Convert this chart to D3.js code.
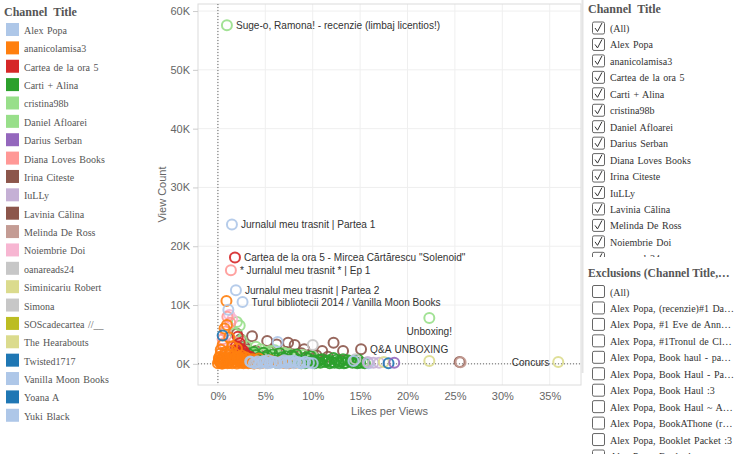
<!DOCTYPE html>
<html>
<head>
<meta charset="utf-8">
<script src="https://cdn.jsdelivr.net/npm/d3@7"></script>
<style>
  body { margin: 0; background: #fff; }
  svg { display: block; }
  .serif { font-family: "Liberation Serif", "Times New Roman", serif; }
  .sans { font-family: "Liberation Sans", Arial, sans-serif; }
</style>
</head>
<body>
<svg id="chart" width="736" height="454"></svg>
<script>
// channels and their colours (legend order)
var channels = ["Alex Popa", "ananicolamisa3", "Cartea de la ora 5", "Carti + Alina", "cristina98b",
    "Daniel Afloarei", "Darius Serban", "Diana Loves Books", "Irina Citeste", "IuLLy", "Lavinia Călina",
    "Melinda De Ross", "Noiembrie Doi", "oanareads24", "Siminicariu Robert", "Simona",
    "SOScadecartea //__", "The Hearabouts", "Twisted1717", "Vanilla Moon Books", "Yoana A", "Yuki Black"];
var channelColors = ["#aec7e8", "#ff7f0e", "#d62728", "#2ca02c", "#98df8a", "#98df8a", "#9467bd",
    "#ff9896", "#8c564b", "#c5b0d5", "#8c564b", "#c49c94", "#f7b6d2", "#c7c7c7", "#dbdb8d",
    "#c7c7c7", "#bcbd22", "#dbdb8d", "#1f77b4", "#aec7e8", "#1f77b4", "#aec7e8"];

// points per channel: [likes per views (%), view count]
var alexPopa = [[1.48, 23700], [1.9, 12500], [4.0, 200], [4.5, 100], [5.0, 300], [5.5, 150], [6.0, 250],
    [6.5, 100], [7.0, 300], [7.5, 200], [8.0, 100], [8.5, 250], [9.0, 150], [4.8, 500], [6.3, 3700],
    [3.5, 300], [3.8, 100], [4.2, 400], [4.7, 250], [5.2, 100], [5.7, 400], [6.2, 150], [6.7, 350],
    [7.2, 100], [7.7, 400], [8.2, 300], [8.7, 100], [9.2, 350], [9.6, 200], [10.0, 100], [5.3, 600],
    [7.0, 600], [8.0, 550]];
var ananicolamisa3 = [[0.9, 10700], [0.95, 6600], [0.7, 6000], [1.2, 4500], [0.5, 3200], [1.5, 3000],
    [2.0, 2600], [0.3, 1800], [0.8, 2000], [1.1, 1500], [1.8, 1700], [2.5, 1400], [0.4, 900], [1.0, 1000],
    [1.6, 800], [2.2, 900], [2.8, 700], [3.3, 600], [0.2, 300], [0.6, 400], [1.3, 500], [1.9, 300],
    [2.4, 200], [3.0, 300], [3.6, 200], [4.1, 300], [4.6, 150], [5.2, 200], [5.8, 300], [6.3, 200],
    [0.0, 100], [0.5, 50], [1.0, 100], [1.5, 100], [2.0, 50], [2.7, 100], [3.8, 50], [4.4, 100],
    [7.0, 150], [7.5, 100], [8.2, 200], [6.8, 500], [5.5, 600], [0.3, 2400], [1.4, 2200],
    [0.1, 600], [0.3, 200], [0.6, 900], [0.9, 500], [1.2, 200], [1.4, 800], [1.7, 400], [2.0, 1100],
    [2.1, 600], [2.3, 400], [2.6, 800], [2.9, 300], [3.1, 900], [3.4, 500], [0.2, 1200], [0.7, 1400],
    [1.1, 700], [1.8, 1000], [2.5, 300], [3.2, 100], [0.4, 50], [0.8, 300], [1.6, 1300], [2.2, 1200],
    [2.9, 1100], [0.1, 1000], [3.6, 800], [4.0, 600], [4.3, 900], [5.0, 500]];
var carteaOra5 = [[1.8, 18100], [2.1, 4600], [2.3, 3500], [1.9, 3000], [2.5, 2500], [2.0, 2000],
    [2.8, 1800], [1.7, 1200], [2.4, 1000], [3.0, 1500], [3.2, 800], [2.6, 600], [2.2, 2700], [2.7, 2200],
    [2.0, 1500], [2.9, 1000], [1.9, 800], [2.4, 1400], [3.4, 1200]];
var cartiAlina = [[3.0, 1200], [3.5, 900], [4.0, 1500], [4.5, 800], [5.0, 1100], [5.5, 700], [6.0, 1000],
    [6.5, 600], [7.0, 900], [7.5, 500], [8.0, 1200], [8.5, 700], [9.0, 400], [9.5, 900], [10.0, 600],
    [10.5, 300], [10.8, 200], [11.0, 800], [11.5, 500], [12.0, 300], [12.5, 700], [13.0, 400],
    [13.5, 200], [14.0, 500], [14.5, 300], [15.0, 200], [15.5, 100], [4.2, 300], [6.2, 200], [8.8, 100],
    [11.8, 100], [13.2, 800], [9.8, 1300], [7.8, 1400], [5.8, 1600], [12.2, 1000], [14.8, 700],
    [3.8, 2000], [10.2, 100], [12.8, 100], [9.2, 100], [9.7, 300], [10.3, 500], [10.7, 700], [11.3, 300],
    [11.7, 600], [12.3, 200], [12.7, 400], [13.3, 100], [13.7, 600], [14.2, 200], [14.7, 100],
    [2.5, 1400], [3.2, 1700], [4.8, 1900], [6.5, 1800], [7.2, 1300], [8.3, 1600], [9.3, 1100],
    [5.2, 1400], [6.8, 1100], [4.4, 1100]];
var cristina98b = [[22.3, 7800], [2.0, 7100], [2.3, 6500], [3.0, 3000], [4.5, 2500], [5.5, 2200],
    [7.0, 1900], [2.5, 4000], [15.3, 200], [3.6, 1800], [6.2, 1600], [8.4, 1500], [3.2, 2200],
    [4.0, 1800], [5.0, 2000], [6.0, 2300], [7.5, 1700], [9.0, 1500], [2.6, 1500], [10.0, 1300]];
var danielAfloarei = [[0.95, 57600], [1.8, 5200], [4.0, 2900], [5.0, 1700]];
var dariusSerban = [[18.6, 200]];
var dianaLovesBooks = [[1.37, 15900], [0.5, 4200], [0.8, 5500], [1.0, 8000], [1.3, 7000], [0.6, 3500],
    [1.7, 3800]];
var irinaCiteste = [[2.0, 5100], [2.4, 4200], [3.6, 4700], [5.2, 3900], [6.2, 3300], [7.4, 3600],
    [8.1, 3200], [9.1, 2500], [11.0, 2200], [12.2, 3600], [13.2, 2200]];
var iuLLy = [[16.4, 200], [17.0, 200], [15.8, 300]];
var laviniaCalina = [[15.1, 2500], [3.0, 2500], [4.0, 2200], [4.8, 1900], [5.6, 2100], [6.6, 1700],
    [7.2, 2000], [8.0, 1600], [8.8, 1800], [9.6, 1500], [10.4, 1400], [11.6, 1200], [4.4, 1500],
    [2.8, 3000], [25.5, 300]];
var melindaDeRoss = [[25.6, 250], [1.0, 2000]];
var noiembrieDoi = [[1.2, 8300], [1.5, 7600], [0.4, 2500]];
var oanareads24 = [[10.0, 3200], [14.5, 800]];
var siminicariuRobert = [[22.3, 500]];
var simona = [[7.5, 500], [6.0, 300]];
var sosCadecartea = [];
var theHearabouts = [[35.9, 300], [17.5, 300]];
var twisted1717 = [[18.0, 100]];
var vanillaMoonBooks = [[2.6, 10500], [14.3, 500], [15.9, 100]];
var yoanaA = [[0.5, 4800]];
var yukiBlack = [[1.1, 9200], [3.4, 400]];

var channelPoints = [alexPopa, ananicolamisa3, carteaOra5, cartiAlina, cristina98b, danielAfloarei,
    dariusSerban, dianaLovesBooks, irinaCiteste, iuLLy, laviniaCalina, melindaDeRoss, noiembrieDoi,
    oanareads24, siminicariuRobert, simona, sosCadecartea, theHearabouts, twisted1717, vanillaMoonBooks,
    yoanaA, yukiBlack];

// order the marks are painted in (back to front)
var drawOrder = ["Irina Citeste", "Lavinia Călina", "cristina98b", "Daniel Afloarei", "Carti + Alina",
    "Melinda De Ross", "Noiembrie Doi", "Diana Loves Books", "Cartea de la ora 5", "ananicolamisa3",
    "oanareads24", "Simona", "Alex Popa", "Yuki Black", "Vanilla Moon Books", "Yoana A", "IuLLy",
    "Siminicariu Robert", "The Hearabouts", "SOScadecartea //__", "Twisted1717", "Darius Serban"];

// labelled videos
var labelTitles = ["Suge-o, Ramona! - recenzie (limbaj licentios!)", "Jurnalul meu trasnit | Partea 1",
    "Cartea de la ora 5 - Mircea Cărtărescu \"Solenoid\"", "* Jurnalul meu trasnit * | Ep 1",
    "Jurnalul meu trasnit | Partea 2", "Turul bibliotecii 2014 / Vanilla Moon Books", "Unboxing!",
    "Q&A", "UNBOXING", "Concurs"];
var labelLikes = [0.95, 1.48, 1.8, 1.37, 1.9, 2.6, 22.3, 15.1, 22.3, 35.9];
var labelViews = [57600, 23700, 18100, 15900, 12500, 10500, 7800, 2500, 500, 300];
var labelSide = ["right", "right", "right", "right", "right", "right", "below", "right", "above", "left"];

var yTicks = [0, 10000, 20000, 30000, 40000, 50000, 60000];
var xTicks = [0, 5, 10, 15, 20, 25, 30, 35];

var filterItems = ["(All)"].concat(channels);
var exclusionItems = ["(All)", "Alex Popa, (recenzie)#1 Da…", "Alex Popa, #1 Eve de Ann…",
    "Alex Popa, #1Tronul de Cl…", "Alex Popa, Book haul - pa…", "Alex Popa, Book Haul - Pa…",
    "Alex Popa, Book Haul :3", "Alex Popa, Book Haul ~ A…", "Alex Popa, BookAThone (r…",
    "Alex Popa, Booklet Packet :3", "Alex Popa, Booktube tag…"];

var svg = d3.select('#chart');

// ---------- plot ----------
var plot = { left: 198, right: 581, top: 4, bottom: 385 };

var x = d3.scaleLinear().domain([-2.1, 38.3]).range([plot.left, plot.right]);
var y = d3.scaleLinear().domain([-3600, 61200]).range([plot.bottom, plot.top]);

// gridlines
svg.append('g').selectAll('line.gx')
    .data(xTicks).enter().append('line')
    .attr('x1', function (d) { return x(d); })
    .attr('x2', function (d) { return x(d); })
    .attr('y1', plot.top).attr('y2', plot.bottom)
    .style('stroke', '#efefef').style('stroke-width', 1);

svg.append('g').selectAll('line.gy')
    .data(yTicks).enter().append('line')
    .attr('y1', function (d) { return y(d); })
    .attr('y2', function (d) { return y(d); })
    .attr('x1', plot.left).attr('x2', plot.right)
    .style('stroke', '#efefef').style('stroke-width', 1);

// frame
svg.append('rect')
    .attr('x', plot.left).attr('y', plot.top)
    .attr('width', plot.right - plot.left).attr('height', plot.bottom - plot.top)
    .attr('fill', 'none').style('stroke', '#dcdcdc');

// zero reference lines
svg.append('line')
    .attr('x1', x(0)).attr('x2', x(0)).attr('y1', plot.top).attr('y2', plot.bottom)
    .style('stroke', '#666').style('stroke-width', 1).style('stroke-dasharray', '1,2');
svg.append('line')
    .attr('x1', plot.left).attr('x2', plot.right).attr('y1', y(0)).attr('y2', y(0))
    .style('stroke', '#666').style('stroke-width', 1).style('stroke-dasharray', '1,2');

// axes
var yAxis = d3.axisLeft(y).tickValues(yTicks).tickSize(5).tickPadding(3)
    .tickFormat(function (d) { return (d / 1000) + 'K'; });
var gy = svg.append('g').attr('transform', 'translate(' + plot.left + ',0)').call(yAxis);

var xAxis = d3.axisBottom(x).tickValues(xTicks).tickSize(0).tickPadding(7)
    .tickFormat(function (d) { return d + '%'; });
var gx = svg.append('g').attr('transform', 'translate(0,' + plot.bottom + ')').call(xAxis);

[gx, gy].forEach(function (g) {
    g.select('.domain').remove();
    g.selectAll('.tick line').style('stroke', '#ccc');
    g.selectAll('text').attr('class', 'sans').style('font-size', '11px').style('fill', '#666');
});

svg.append('text').attr('class', 'sans')
    .attr('x', (plot.left + plot.right) / 2).attr('y', 415)
    .attr('text-anchor', 'middle')
    .style('font-size', '11px').style('fill', '#666')
    .text('Likes per Views');

svg.append('text').attr('class', 'sans')
    .attr('transform', 'translate(166,' + ((plot.top + plot.bottom) / 2) + ') rotate(-90)')
    .attr('text-anchor', 'middle')
    .style('font-size', '11px').style('fill', '#666')
    .text('View Count');

// marks
var marks = svg.append('g');
drawOrder.forEach(function (name) {
    var i = channels.indexOf(name);
    marks.selectAll(null)
        .data(channelPoints[i]).enter().append('circle')
        .attr('cx', function (d) { return x(d[0]); })
        .attr('cy', function (d) { return y(d[1]); })
        .attr('r', 5)
        .attr('fill', 'none')
        .style('stroke', channelColors[i])
        .style('stroke-width', 2)
        .style('stroke-opacity', 0.9);
});

// labels
var labels = svg.append('g');
labelTitles.forEach(function (t, i) {
    var px = x(labelLikes[i]), py = y(labelViews[i]);
    var txt = labels.append('text').attr('class', 'sans')
        .style('font-size', '10.1px').style('fill', '#333').text(t);
    if (labelSide[i] === 'right') {
        txt.attr('x', px + 9).attr('y', py + 4);
    } else if (labelSide[i] === 'left') {
        txt.attr('x', px - 9).attr('y', py + 4).attr('text-anchor', 'end');
    } else if (labelSide[i] === 'below') {
        txt.attr('x', px).attr('y', py + 17).attr('text-anchor', 'middle');
    } else {
        txt.attr('x', px - 8).attr('y', py - 8).attr('text-anchor', 'middle');
    }
});

// ---------- colour legend ----------
var legend = svg.append('g');
legend.append('text').attr('class', 'serif')
    .attr('x', 4).attr('y', 16)
    .style('font-size', '12px').style('font-weight', 'bold').style('fill', '#555')
    .style('word-spacing', '3px')
    .text('Channel Title');

var legendRow = d3.scaleLinear().domain([0, 1]).range([30, 48.37]);
var items = legend.selectAll('g.item')
    .data(channels).enter().append('g')
    .attr('transform', function (d, i) { return 'translate(0,' + legendRow(i) + ')'; });
items.append('rect')
    .attr('x', 6).attr('y', -7).attr('width', 13).attr('height', 13)
    .attr('fill', function (d, i) { return channelColors[i]; });
items.append('text').attr('class', 'serif')
    .attr('x', 24).attr('y', 4)
    .style('font-size', '10px').style('fill', '#555').style('word-spacing', '1px')
    .text(function (d) { return d; });

// ---------- filter panels ----------
function checkList(g, list, top, checked, clipBottom) {
    var clipId = 'clip' + Math.round(top);
    svg.append('clipPath').attr('id', clipId).append('rect')
        .attr('x', 585).attr('y', top - 10).attr('width', 151).attr('height', clipBottom - top + 10);
    var rows = g.append('g').attr('clip-path', 'url(#' + clipId + ')')
        .selectAll('g').data(list).enter().append('g')
        .attr('transform', function (d, i) { return 'translate(0,' + (top + i * 16.45) + ')'; });
    rows.append('rect')
        .attr('x', 592.5).attr('y', -6.5).attr('width', 12).attr('height', 12).attr('rx', 1.5)
        .attr('fill', '#fff').style('stroke', '#666').style('stroke-width', 1);
    if (checked) {
        rows.append('path')
            .attr('d', 'M595,-0.5 L597.5,3 L602,-5.5')
            .attr('fill', 'none').style('stroke', '#333').style('stroke-width', 1);
    }
    rows.append('text').attr('class', 'serif')
        .attr('x', 610).attr('y', 3.5)
        .style('font-size', '10px').style('fill', '#333').style('word-spacing', '1px')
        .text(function (d) { return d; });
}

var panel = svg.append('g');
panel.append('line')
    .attr('x1', 582.5).attr('x2', 582.5).attr('y1', 0).attr('y2', 373)
    .style('stroke', '#e4e4e4').style('stroke-width', 2);
panel.append('text').attr('class', 'serif')
    .attr('x', 588).attr('y', 13)
    .style('font-size', '12px').style('font-weight', 'bold').style('fill', '#555')
    .style('word-spacing', '3px')
    .text('Channel Title');
checkList(panel, filterItems, 28.5, true, 257);

panel.append('text').attr('class', 'serif')
    .attr('x', 588).attr('y', 277)
    .style('font-size', '11.6px').style('font-weight', 'bold').style('fill', '#555')
    .text('Exclusions (Channel Title,…');
checkList(panel, exclusionItems, 292, false, 454);
</script>
</body>
</html>
